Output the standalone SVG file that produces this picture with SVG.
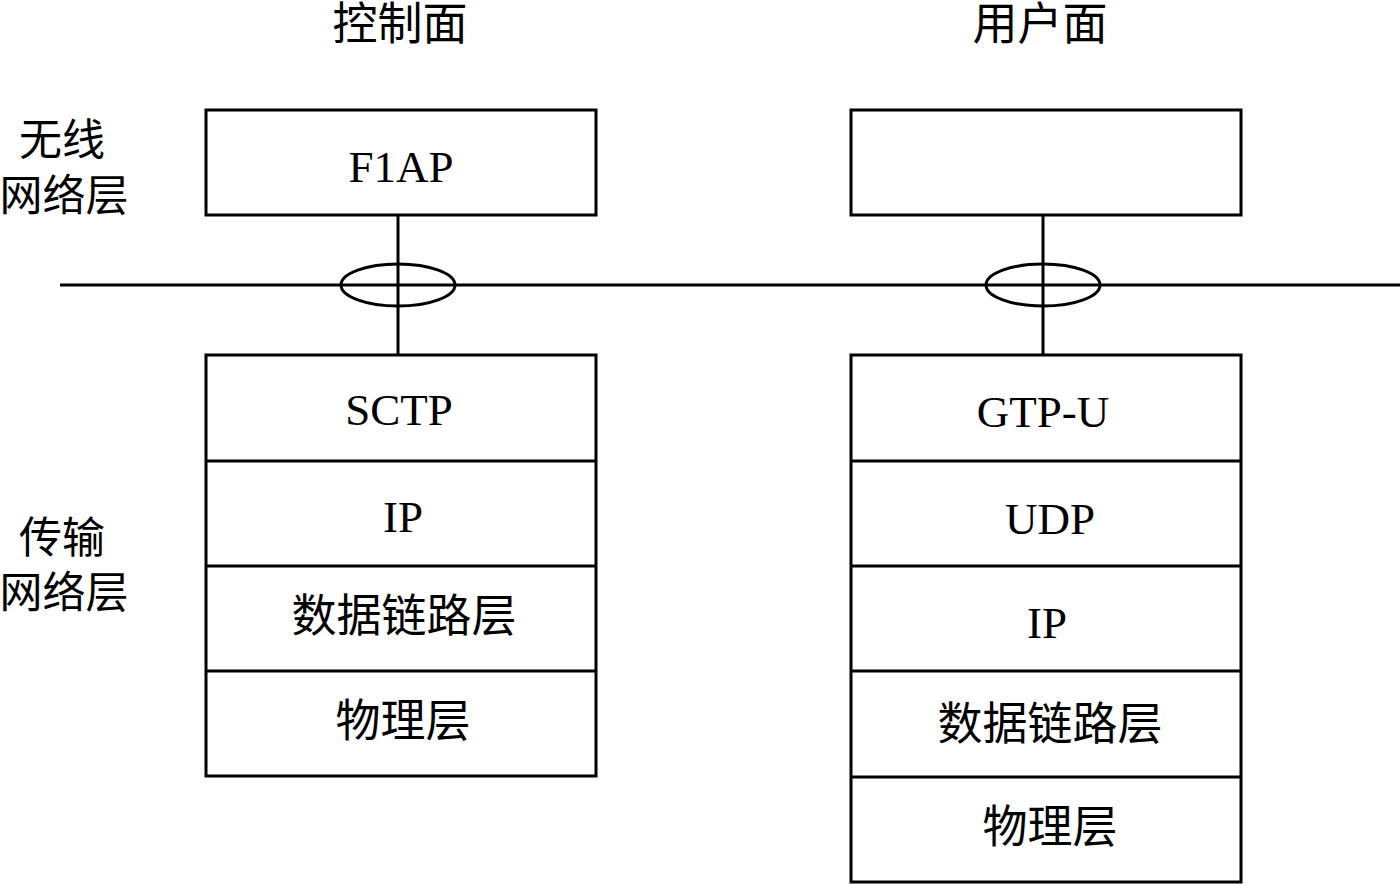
<svg xmlns="http://www.w3.org/2000/svg" width="1400" height="884" viewBox="0 0 1400 884">
<style>
.box{fill:#fff;stroke:#000;stroke-width:3}
.ln{fill:none;stroke:#000;stroke-width:3}
.t{font-family:"Liberation Serif","Noto Sans CJK SC",serif;font-size:45px;fill:#000;text-anchor:middle}
.c{font-family:"Noto Sans CJK SC","Liberation Serif",serif;font-size:45px;fill:#000;text-anchor:middle}
.s{font-family:"Noto Sans CJK SC","Liberation Serif",serif;font-size:43px;fill:#000;text-anchor:middle}
</style>
<rect width="1400" height="884" fill="#fff"/>
<g id="labels">
<text class="c" x="400" y="40">控制面</text>
<text class="c" x="1040" y="40">用户面</text>
<text class="s" x="62" y="155">无线</text>
<text class="s" x="64" y="211">网络层</text>
<text class="s" x="62" y="553">传输</text>
<text class="s" x="64" y="608">网络层</text>
</g>
<g id="connectors">
<line class="ln" x1="60" y1="285" x2="1400" y2="285"/>
<line class="ln" x1="398" y1="215" x2="398" y2="355"/>
<line class="ln" x1="1043" y1="215" x2="1043" y2="355"/>
<ellipse class="ln" cx="398" cy="285" rx="57" ry="21"/>
<ellipse class="ln" cx="1043" cy="285" rx="57" ry="21"/>
</g>
<g id="f1ap">
<rect class="box" x="206" y="110" width="390" height="105"/>
<text class="t" x="401" y="182">F1AP</text>
</g>
<g id="up-top">
<rect class="box" x="851" y="110" width="390" height="105"/>
</g>
<g id="cp-stack">
<rect class="box" x="206" y="355" width="390" height="421"/>
<line class="ln" x1="206" y1="461" x2="596" y2="461"/>
<line class="ln" x1="206" y1="566" x2="596" y2="566"/>
<line class="ln" x1="206" y1="671" x2="596" y2="671"/>
<text class="t" x="399" y="425">SCTP</text>
<text class="t" x="403" y="532">IP</text>
<text class="c" x="404" y="632">数据链路层</text>
<text class="c" x="403" y="737">物理层</text>
</g>
<g id="up-stack">
<rect class="box" x="851" y="355" width="390" height="527"/>
<line class="ln" x1="851" y1="461" x2="1241" y2="461"/>
<line class="ln" x1="851" y1="566" x2="1241" y2="566"/>
<line class="ln" x1="851" y1="671" x2="1241" y2="671"/>
<line class="ln" x1="851" y1="777" x2="1241" y2="777"/>
<text class="t" x="1043" y="427">GTP-U</text>
<text class="t" x="1050" y="534">UDP</text>
<text class="t" x="1047" y="638">IP</text>
<text class="c" x="1050" y="740">数据链路层</text>
<text class="c" x="1050" y="843">物理层</text>
</g>
</svg>
